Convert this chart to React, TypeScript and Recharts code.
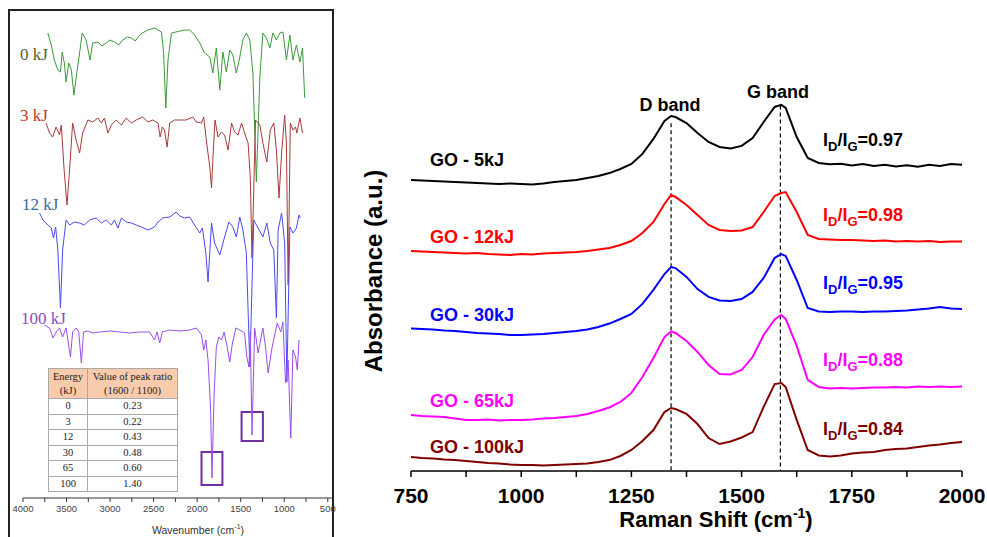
import React from 'react';
import { LineChart, Line, XAxis, YAxis, ReferenceLine, ReferenceArea } from 'recharts';

// ---- left panel: FTIR spectra (wavenumber, offset transmittance) ----
const ftir0kJ: [number, number][] = [
  [3715, 465], [3675, 453], [3640, 438], [3600, 428], [3570, 426], [3550, 446], [3525, 435], [3505, 416],
  [3475, 435], [3445, 428], [3415, 403], [3390, 420], [3350, 445], [3320, 465], [3275, 458], [3230, 438],
  [3200, 455], [3140, 456], [3095, 452], [3045, 455], [3000, 458], [2950, 456], [2900, 453], [2855, 458],
  [2800, 461], [2755, 460], [2710, 457], [2660, 463], [2610, 466], [2565, 468], [2490, 470], [2410, 466],
  [2385, 445], [2360, 390], [2335, 438], [2295, 465], [2145, 468], [2085, 468], [2030, 463], [1970, 455],
  [1915, 445], [1855, 441], [1820, 425], [1780, 450], [1740, 408], [1705, 446], [1665, 426], [1625, 448],
  [1590, 443], [1550, 425], [1510, 441], [1475, 458], [1435, 465], [1395, 458], [1360, 425], [1320, 316],
  [1280, 421], [1245, 465], [1205, 460], [1165, 450], [1130, 465], [1090, 458], [1050, 465], [1015, 466],
  [975, 438], [935, 463], [900, 438], [860, 453], [820, 436], [790, 450], [765, 400],
];
const ftir3kJ: [number, number][] = [
  [3735, 375], [3695, 365], [3660, 361], [3620, 371], [3580, 363], [3560, 373], [3530, 331], [3495, 293],
  [3465, 328], [3430, 375], [3390, 358], [3350, 345], [3315, 365], [3255, 378], [3200, 376], [3140, 380],
  [3100, 375], [3065, 380], [3025, 365], [2985, 373], [2930, 378], [2870, 373], [2815, 380], [2755, 375],
  [2700, 378], [2625, 381], [2565, 376], [2510, 378], [2450, 375], [2425, 361], [2400, 371], [2375, 368],
  [2345, 351], [2315, 375], [2260, 378], [2200, 378], [2125, 378], [2050, 381], [2010, 376], [1950, 375],
  [1925, 381], [1895, 358], [1855, 331], [1835, 310], [1820, 338], [1795, 378], [1760, 361], [1720, 366],
  [1685, 363], [1645, 348], [1605, 375], [1570, 366], [1530, 363], [1490, 375], [1455, 365], [1415, 355],
  [1390, 321], [1370, 240], [1330, 378], [1280, 373], [1245, 355], [1200, 336], [1160, 368], [1120, 375],
  [1090, 348], [1060, 300], [1030, 345], [995, 383], [975, 355], [955, 213], [930, 375], [900, 368],
  [870, 371], [855, 365], [820, 380], [790, 365],
];
const ftir12kJ: [number, number][] = [
  [3810, 285], [3770, 278], [3715, 273], [3675, 270], [3650, 260], [3625, 271], [3600, 248], [3570, 190],
  [3545, 248], [3505, 278], [3465, 273], [3410, 276], [3350, 275], [3295, 273], [3235, 278], [3160, 280],
  [3100, 275], [3045, 278], [2985, 273], [2950, 278], [2910, 270], [2870, 280], [2815, 276], [2755, 275],
  [2700, 273], [2640, 271], [2565, 268], [2490, 271], [2450, 276], [2395, 280], [2315, 281], [2240, 286],
  [2200, 282], [2145, 280], [2085, 281], [2030, 273], [1970, 265], [1940, 270], [1900, 245], [1875, 216],
  [1835, 275], [1800, 255], [1740, 243], [1685, 261], [1635, 276], [1590, 271], [1550, 261], [1510, 281],
  [1475, 268], [1435, 245], [1395, 131], [1350, 278], [1300, 270], [1245, 261], [1200, 275], [1160, 255],
  [1120, 248], [1090, 180], [1070, 268], [1030, 285], [995, 255], [970, 116], [935, 271], [900, 265],
  [860, 270], [830, 283], [815, 280],
];
const ftir100kJ: [number, number][] = [
  [3755, 173], [3695, 170], [3655, 160], [3620, 166], [3580, 170], [3545, 161], [3505, 170], [3455, 141],
  [3430, 166], [3390, 170], [3360, 166], [3330, 135], [3305, 166], [3255, 167], [3200, 165], [3120, 166],
  [3005, 167], [2890, 166], [2775, 165], [2660, 166], [2545, 166], [2490, 158], [2460, 166], [2430, 155],
  [2400, 166], [2315, 168], [2200, 167], [2085, 168], [2010, 170], [1950, 163], [1925, 148], [1900, 158],
  [1875, 138], [1845, 88], [1830, 20], [1805, 105], [1780, 151], [1750, 161], [1720, 158], [1690, 166],
  [1655, 151], [1625, 136], [1595, 155], [1555, 170], [1510, 168], [1455, 165], [1430, 141], [1405, 131],
  [1390, 166], [1370, 63], [1340, 170], [1300, 145], [1245, 170], [1215, 151], [1185, 125], [1145, 148],
  [1110, 163], [1080, 175], [1040, 166], [1015, 176], [985, 115], [955, 138], [925, 60], [900, 148],
  [870, 141], [850, 128], [830, 158],
];
const wavenumberTicks = [4000, 3750, 3500, 3250, 3000, 2750, 2500, 2250, 2000, 1750, 1500, 1250, 1000, 750, 500];

// table in the left panel
const tableEnergy = ['0', '3', '12', '30', '65', '100'];
const tablePeakRatio = ['0.23', '0.22', '0.43', '0.48', '0.60', '1.40'];

// ---- right panel: Raman spectra ----
const ramanShift = [
  750, 775, 800, 825, 850, 875, 900, 925, 950, 975, 1000, 1025, 1050, 1075, 1100, 1125, 1150, 1175, 1200, 1225,
  1250, 1275, 1300, 1325, 1340, 1350, 1375, 1400, 1425, 1450, 1475, 1500, 1525, 1550, 1575, 1590, 1600, 1625,
  1650, 1675, 1700, 1725, 1750, 1775, 1800, 1825, 1850, 1875, 1900, 1925, 1950, 1975, 2000,
];
const go5kJ = [
  170.4, 170.1, 169.8, 169.5, 169.2, 168.9, 168.6, 168.3, 168.0, 168.3, 168.0, 167.7, 168.3, 169.2, 169.8, 170.4,
  171.5, 172.7, 174.4, 176.8, 179.7, 185.6, 194.4, 204.9, 207.8, 207.2, 203.7, 197.9, 192.6, 189.7, 188.8, 190.3,
  194.9, 204.3, 213.1, 214.3, 212.5, 195.5, 183.2, 180.3, 179.6, 179.9, 178.9, 179.7, 178.6, 179.2, 178.3, 178.9,
  178.1, 179.3, 178.6, 179.7, 179.2,
];
const go12kJ = [
  128.8, 128.5, 128.2, 127.9, 127.6, 127.3, 127.6, 127.0, 126.7, 126.4, 127.0, 126.7, 127.3, 127.6, 127.9, 128.2,
  128.8, 129.7, 130.5, 132.3, 134.6, 139.3, 145.8, 156.3, 161.6, 160.4, 155.7, 149.9, 144.0, 141.1, 140.5, 140.8,
  142.8, 151.6, 161.0, 162.7, 163.3, 151.6, 138.2, 135.8, 135.5, 135.2, 135.2, 134.9, 134.6, 134.9, 134.3, 134.6,
  134.3, 134.6, 134.1, 134.3, 134.3,
];
const go30kJ = [
  83.4, 83.1, 82.8, 82.2, 82.0, 81.4, 80.8, 80.5, 80.2, 79.6, 79.6, 79.9, 80.2, 80.8, 81.4, 82.0,
  82.8, 84.3, 86.3, 89.0, 91.9, 97.8, 106.0, 115.3, 119.4, 118.8, 113.6, 106.5, 101.9, 99.8, 99.5, 100.7,
  104.8, 113.0, 124.7, 127.0, 125.9, 111.8, 95.4, 93.4, 93.1, 93.4, 93.4, 93.1, 93.4, 93.4, 93.7, 94.0,
  94.5, 95.1, 96.0, 95.1, 94.8,
];
const go65kJ = [
  32.8, 32.2, 31.9, 31.6, 30.7, 29.9, 29.9, 30.1, 29.6, 29.9, 29.9, 30.1, 30.7, 31.0, 31.6, 32.2,
  33.4, 35.1, 37.2, 40.4, 45.7, 55.0, 66.2, 78.4, 81.7, 80.8, 76.1, 69.7, 62.1, 56.8, 56.5, 59.1,
  66.7, 79.6, 88.7, 91.3, 89.0, 73.2, 53.3, 49.2, 48.3, 48.6, 48.3, 48.6, 48.9, 48.9, 49.2, 48.9,
  49.5, 49.2, 49.5, 49.2, 49.5,
];
const go100kJ = [
  8.2, 7.6, 7.3, 6.7, 6.4, 5.9, 5.3, 4.7, 4.4, 3.8, 3.5, 3.5, 3.2, 3.5, 3.8, 4.1,
  4.4, 5.3, 6.4, 8.8, 12.3, 17.6, 24.0, 34.5, 36.9, 36.3, 33.4, 27.5, 19.3, 15.8, 17.3, 19.6,
  22.8, 37.5, 50.9, 51.5, 49.2, 29.9, 12.3, 9.1, 8.5, 9.1, 10.2, 10.8, 11.1, 12.3, 12.9, 13.2,
  14.0, 14.9, 15.5, 16.4, 17.0,
];
const ramanTicks = [750, 875, 1000, 1125, 1250, 1375, 1500, 1625, 1750, 1875, 2000];
const absTicks = [0, 10, 20, 30, 40, 50, 60, 70, 80, 90, 100, 110, 120, 130, 140, 150, 160, 170, 180, 190, 200, 210, 220, 230, 240];
const dBand = 1340;
const gBand = 1588;

const series = [
  { key: 'a', label: 'GO - 5kJ', ratio: '0.97', color: '#000000', values: go5kJ },
  { key: 'b', label: 'GO - 12kJ', ratio: '0.98', color: '#ff0000', values: go12kJ },
  { key: 'c', label: 'GO - 30kJ', ratio: '0.95', color: '#0000ff', values: go30kJ },
  { key: 'd', label: 'GO - 65kJ', ratio: '0.88', color: '#ff00ff', values: go65kJ },
  { key: 'e', label: 'GO - 100kJ', ratio: '0.84', color: '#800000', values: go100kJ },
];
const ramanRows = ramanShift.map((s, i) => {
  const row: Record<string, number> = { s };
  series.forEach((sr) => { row[sr.key] = sr.values[i]; });
  return row;
});

const ftirSeries = [
  { name: '0 kJ', pts: ftir0kJ, color: '#3a9a3a', labelColor: '#4f6228', top: 46, left: 20 },
  { name: '3 kJ', pts: ftir3kJ, color: '#a83a3a', labelColor: '#c0392b', top: 107, left: 20 },
  { name: '12 kJ', pts: ftir12kJ, color: '#4a4af5', labelColor: '#3b6a96', top: 196, left: 22 },
  { name: '100 kJ', pts: ftir100kJ, color: '#9b4df0', labelColor: '#8a4cc4', top: 310, left: 21 },
];

const sans = '"Liberation Sans", Arial, sans-serif';
const serif = '"Liberation Serif", "Times New Roman", serif';

// label tops from baselines
const labelTops = [151, 228, 305.5, 391.5, 438];
const ratioTops = [131, 205.5, 274, 351, 420];

export default function App() {
  const cell: React.CSSProperties = {
    border: '1px solid #aaa', padding: 0, textAlign: 'center', fontFamily: serif, fontSize: 10.5, color: '#222',
    lineHeight: '14px', fontWeight: 400,
  };
  return (
    <div style={{ position: 'absolute', left: 0, top: 0, width: 987, height: 537, background: '#fff', overflow: 'hidden' }}>
      {/* left panel frame */}
      <div style={{ position: 'absolute', left: 8, top: 9, width: 326, height: 540, boxSizing: 'border-box', border: '2px solid #222', borderBottom: 'none' }} />
      <div style={{ position: 'absolute', left: 0, top: 0 }}>
        <LineChart width={340} height={537} margin={{ top: 10, right: 7, left: 23, bottom: 19 }}>
          <XAxis
            dataKey="w"
            type="number"
            domain={[440, 4000]}
            reversed
            allowDataOverflow
            ticks={wavenumberTicks}
            interval={0}
            tickFormatter={(v) => (v % 500 === 0 ? String(v) : '')}
            tick={{ fontFamily: sans, fontSize: 9.5, fill: '#444' }}
            tickSize={4}
            tickMargin={3}
            height={20}
            stroke="#333"
          />
          <YAxis hide domain={[0, 488]} />
          {ftirSeries.map((s) => (
            <Line
              key={s.name}
              data={s.pts.map(([w, v]) => ({ w, v }))}
              dataKey="v"
              type="linear"
              stroke={s.color}
              strokeWidth={1}
              dot={false}
              isAnimationActive={false}
            />
          ))}
          <ReferenceArea x1={1710} x2={1950} y1={13} y2={46} fill="none" stroke="#7030a0" strokeWidth={2} />
          <ReferenceArea x1={1245} x2={1490} y1={57} y2={86} fill="none" stroke="#7030a0" strokeWidth={2} />
        </LineChart>
      </div>
      {ftirSeries.map((s) => (
        <div key={s.name} style={{ position: 'absolute', left: s.left, top: s.top, fontFamily: serif, fontSize: 17, lineHeight: '17px', color: s.labelColor, whiteSpace: 'nowrap' }}>
          {s.name}
        </div>
      ))}
      <div style={{ position: 'absolute', left: 198, top: 521, transform: 'translateX(-50%)', fontFamily: sans, fontSize: 10.5, lineHeight: '12px', color: '#333', whiteSpace: 'nowrap' }}>
        Wavenumber (cm<sup style={{ fontSize: 7 }}>-1</sup>)
      </div>
      <table style={{ position: 'absolute', left: 48, top: 368, width: 130, borderCollapse: 'collapse', background: '#fff' }}>
        <tbody>
          <tr style={{ background: '#f8cbad', height: 30 }}>
            <td style={{ ...cell, width: 38 }}>Energy<br />(kJ)</td>
            <td style={cell}>Value of peak ratio<br />(1600 / 1100)</td>
          </tr>
          {tableEnergy.map((e, i) => (
            <tr key={e} style={{ height: 15.5 }}>
              <td style={cell}>{e}</td>
              <td style={cell}>{tablePeakRatio[i]}</td>
            </tr>
          ))}
        </tbody>
      </table>

      {/* right panel */}
      <div style={{ position: 'absolute', left: 340, top: 0 }}>
        <LineChart width={647} height={537} data={ramanRows} margin={{ top: 61, right: 25, left: 71, bottom: 36 }}>
          <XAxis
            dataKey="s"
            type="number"
            domain={[750, 2000]}
            ticks={ramanTicks}
            interval={0}
            tickFormatter={(v) => (v % 250 === 0 ? String(v) : '')}
            tick={{ fontFamily: sans, fontWeight: 700, fontSize: 21, fill: '#000' }}
            tickSize={6}
            tickMargin={11}
            height={30}
            stroke="#000"
            strokeWidth={1.5}
          />
          <XAxis
            xAxisId="top"
            orientation="top"
            dataKey="s"
            type="number"
            domain={[750, 2000]}
            ticks={ramanTicks}
            interval={0}
            mirror
            height={0}
            tickSize={5}
            tickFormatter={() => ''}
            stroke="#000"
            strokeWidth={1.5}
          />
          <YAxis domain={[0, 240]} ticks={absTicks} interval={0} mirror width={0} tickSize={5} tickFormatter={() => ''} stroke="#000" strokeWidth={1.5} />
          <YAxis yAxisId="r" orientation="right" domain={[0, 240]} ticks={absTicks} interval={0} mirror width={0} tickSize={5} tickFormatter={() => ''} stroke="#000" strokeWidth={1.5} />
          <ReferenceLine segment={[{ x: dBand, y: 203.5 }, { x: dBand, y: 0 }]} stroke="#000" strokeDasharray="4 3" strokeWidth={1.2} />
          <ReferenceLine segment={[{ x: gBand, y: 214 }, { x: gBand, y: 0 }]} stroke="#000" strokeDasharray="4 3" strokeWidth={1.2} />
          {series.map((s) => (
            <Line key={s.key} dataKey={s.key} type="linear" stroke={s.color} strokeWidth={2} dot={false} isAnimationActive={false} />
          ))}
        </LineChart>
      </div>
      <div style={{ position: 'absolute', left: 670, top: 95.5, transform: 'translateX(-50%)', fontFamily: sans, fontWeight: 700, fontSize: 18, lineHeight: '18px', whiteSpace: 'nowrap' }}>D band</div>
      <div style={{ position: 'absolute', left: 778, top: 83, transform: 'translateX(-50%)', fontFamily: sans, fontWeight: 700, fontSize: 18, lineHeight: '18px', whiteSpace: 'nowrap' }}>G band</div>
      {series.map((s, i) => (
        <React.Fragment key={s.key}>
          <div style={{ position: 'absolute', left: 430, top: labelTops[i], fontFamily: sans, fontWeight: 700, fontSize: 18, lineHeight: '18px', color: s.color, whiteSpace: 'nowrap' }}>
            {s.label}
          </div>
          <div style={{ position: 'absolute', left: 823, top: ratioTops[i], fontFamily: sans, fontWeight: 700, fontSize: 18, lineHeight: '18px', color: s.color, whiteSpace: 'nowrap' }}>
            I<sub style={{ fontSize: 13, verticalAlign: -5 }}>D</sub>/I<sub style={{ fontSize: 13, verticalAlign: -5 }}>G</sub>={s.ratio}
          </div>
        </React.Fragment>
      ))}
      <div style={{ position: 'absolute', left: 716, top: 508, transform: 'translateX(-50%)', fontFamily: sans, fontWeight: 700, fontSize: 22, lineHeight: '24px', whiteSpace: 'nowrap' }}>
        Raman Shift (cm<sup style={{ fontSize: 14, lineHeight: '10px', verticalAlign: 9 }}>-1</sup>)
      </div>
      <div style={{ position: 'absolute', left: 374, top: 271, transform: 'translate(-50%, -50%) rotate(-90deg)', fontFamily: sans, fontWeight: 700, fontSize: 24, lineHeight: '24px', whiteSpace: 'nowrap' }}>
        Absorbance (a.u.)
      </div>
    </div>
  );
}
